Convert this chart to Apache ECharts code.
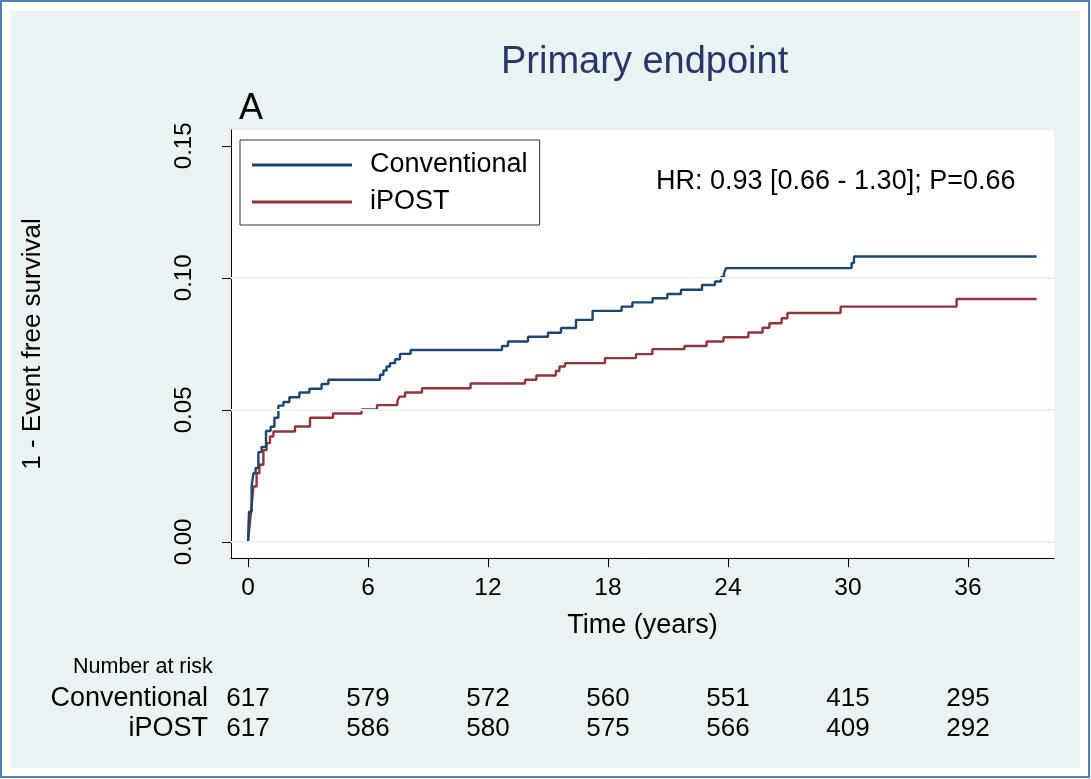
<!DOCTYPE html>
<html>
<head>
<meta charset="utf-8">
<script src="https://cdn.jsdelivr.net/npm/echarts@6/dist/echarts.min.js"></script>
<style>
html,body{margin:0;padding:0;background:#fff;}
#chart{width:1091px;height:779px;}
</style>
</head>
<body>
<div id="chart"></div>
<script>
// ---- data ----
const convTimes  = [0,0.05,0.18,0.27,0.38,0.52,0.68,0.9,1.13,1.32,1.52,1.77,2.07,2.57,3.07,3.68,4.02,6.6,6.77,6.93,7.1,7.35,7.6,8.13,12.7,13.0,14.0,15.0,15.65,16.4,17.23,18.68,19.22,20.23,20.97,21.65,22.7,23.35,23.65,23.8,23.9,30.18,30.3,39.43];
const convValues = [0,0.0114,0.021,0.026,0.028,0.034,0.036,0.042,0.0436,0.047,0.0516,0.053,0.0548,0.0566,0.058,0.0598,0.0614,0.0633,0.0649,0.0664,0.0677,0.0692,0.0712,0.0727,0.0742,0.0759,0.0777,0.0792,0.081,0.0841,0.0875,0.0891,0.0907,0.0923,0.0939,0.0955,0.0973,0.0986,0.1003,0.1018,0.1037,0.1056,0.1081,0.1081];
const ipostTimes  = [0,0.1,0.18,0.27,0.43,0.57,0.77,0.93,1.1,1.27,2.35,3.1,4.25,5.68,6.45,7.47,7.57,7.85,8.7,11.13,13.85,14.42,15.39,15.57,15.85,17.85,19.4,20.22,21.82,22.93,23.77,25.02,25.73,26.07,26.68,26.97,29.63,35.43,39.43];
const ipostValues = [0,0.0077,0.0134,0.021,0.026,0.0292,0.0348,0.0374,0.0399,0.0418,0.0437,0.047,0.0486,0.0502,0.0518,0.0534,0.055,0.0566,0.0582,0.06,0.0614,0.063,0.0647,0.0664,0.0677,0.0696,0.0711,0.073,0.0742,0.0759,0.0775,0.0793,0.0811,0.0828,0.0847,0.0867,0.0891,0.092,0.092];
const xTicks = [0,6,12,18,24,30,36];
const yTicks = [0,0.05,0.10,0.15];
const yGridLines = [0,0.05,0.10];
const riskTimes = [0,6,12,18,24,30,36];
const riskConventional = [617,579,572,560,551,415,295];
const riskIPOST = [617,586,580,575,566,409,292];
const groupNames = ['Conventional','iPOST'];
const hrText = 'HR: 0.93 [0.66 - 1.30]; P=0.66';

// ---- build ----
const FONT = 'Liberation Sans, Arial, sans-serif';
const BLUE = '#1a476f', RED = '#90353b', GREY = '#eaf2f3';
const X_MIN = -0.85, X_MAX = 40.3;

const zip = (a,b)=>a.map((v,i)=>[v,b[i]]);
const riskData = [];
riskTimes.forEach((t,i)=>{
  riskData.push([t,'Conventional',riskConventional[i]]);
  riskData.push([t,'iPOST',riskIPOST[i]]);
});

const chart = echarts.init(document.getElementById('chart'), null, {renderer:'canvas'});
chart.setOption({
  backgroundColor:'#ffffff',
  animation:false,
  textStyle:{fontFamily:FONT},
  graphic:[
    {type:'rect', z:-10, shape:{x:1,y:1,width:1088,height:776}, style:{fill:'#ffffff',stroke:'#4f7fb9',lineWidth:2}},
    {type:'rect', z:-9, shape:{x:11,y:11,width:1069,height:757}, style:{fill:GREY}}
  ],
  title:[
    {text:'Primary endpoint', left:496, top:39, textStyle:{fontFamily:FONT,fontSize:38,fontWeight:'normal',color:'#253868'}},
    {text:'A', left:234, top:86, textStyle:{fontFamily:FONT,fontSize:36,fontWeight:'normal',color:'#000'}},
    {text:hrText, left:651, top:163, textStyle:{fontFamily:FONT,fontSize:27,fontWeight:'normal',color:'#000'}},
    {text:'Number at risk', left:68, top:651, textStyle:{fontFamily:FONT,fontSize:21.5,fontWeight:'normal',color:'#000'}}
  ],
  legend:{
    data:groupNames,
    orient:'vertical',
    left:240, top:140,
    backgroundColor:'#ffffff',
    borderColor:'#333',
    borderWidth:1,
    padding:[10,12,8,12],
    itemWidth:100, itemHeight:3,
    itemGap:7,
    icon:'rect',
    textStyle:{fontFamily:FONT,fontSize:27,color:'#000',lineHeight:30,padding:[0,0,0,13]}
  },
  grid:[
    {left:231, top:130, right:37, bottom:221, show:true, backgroundColor:'#ffffff', borderWidth:0},
    {left:231, top:684, right:37, height:60, show:false}
  ],
  xAxis:[
    {type:'value', gridIndex:0, min:X_MIN, max:X_MAX,
     name:'Time (years)', nameLocation:'middle', nameGap:54,
     nameTextStyle:{fontFamily:FONT,fontSize:27,color:'#000'},
     axisLine:{onZero:false, lineStyle:{color:'#000',width:1}},
     axisTick:{show:true, length:9, customValues:xTicks, lineStyle:{color:'#000'}},
     axisLabel:{customValues:xTicks, fontSize:24.5, color:'#000', margin:18, fontFamily:FONT},
     splitLine:{show:false}},
    {type:'value', gridIndex:1, min:X_MIN, max:X_MAX, show:false}
  ],
  yAxis:[
    {type:'value', gridIndex:0, min:-0.0061, max:0.156,
     name:'1 - Event free survival', nameLocation:'middle', nameGap:185, nameRotate:90,
     nameTextStyle:{fontFamily:FONT,fontSize:26,color:'#000'},
     axisLine:{onZero:false, lineStyle:{color:'#000',width:1}},
     axisTick:{show:true, length:9, customValues:yTicks, lineStyle:{color:'#000'}},
     axisLabel:{customValues:yTicks, fontSize:24, color:'#000', rotate:90, margin:35, fontFamily:FONT,
                formatter:v=>v.toFixed(2)},
     splitLine:{show:false}},
    {type:'category', gridIndex:1, data:['iPOST','Conventional'],
     axisLine:{show:false}, axisTick:{show:false},
     axisLabel:{interval:0, fontSize:27, color:'#000', margin:23, fontFamily:FONT}}
  ],
  series:[
    {type:'line', name:'_grid', xAxisIndex:0, yAxisIndex:0, data:[], z:1, silent:true,
     markLine:{silent:true, symbol:'none', label:{show:false},
               lineStyle:{color:GREY, width:2, type:'solid'},
               data:yGridLines.map(v=>({yAxis:v}))}},
    {type:'line', name:groupNames[0], xAxisIndex:0, yAxisIndex:0, step:'end', symbol:'none',
     color:BLUE, lineStyle:{color:BLUE,width:2.4}, data:zip(convTimes,convValues), z:3},
    {type:'line', name:groupNames[1], xAxisIndex:0, yAxisIndex:0, step:'end', symbol:'none',
     color:RED, lineStyle:{color:RED,width:2.4}, data:zip(ipostTimes,ipostValues), z:2},
    {type:'scatter', xAxisIndex:1, yAxisIndex:1, symbolSize:0, data:riskData, silent:true,
     itemStyle:{opacity:1},
     label:{show:true, position:'inside', formatter:p=>String(p.value[2]), fontSize:26, color:'#000', opacity:1, fontFamily:FONT}}
  ]
});
</script>
</body>
</html>
